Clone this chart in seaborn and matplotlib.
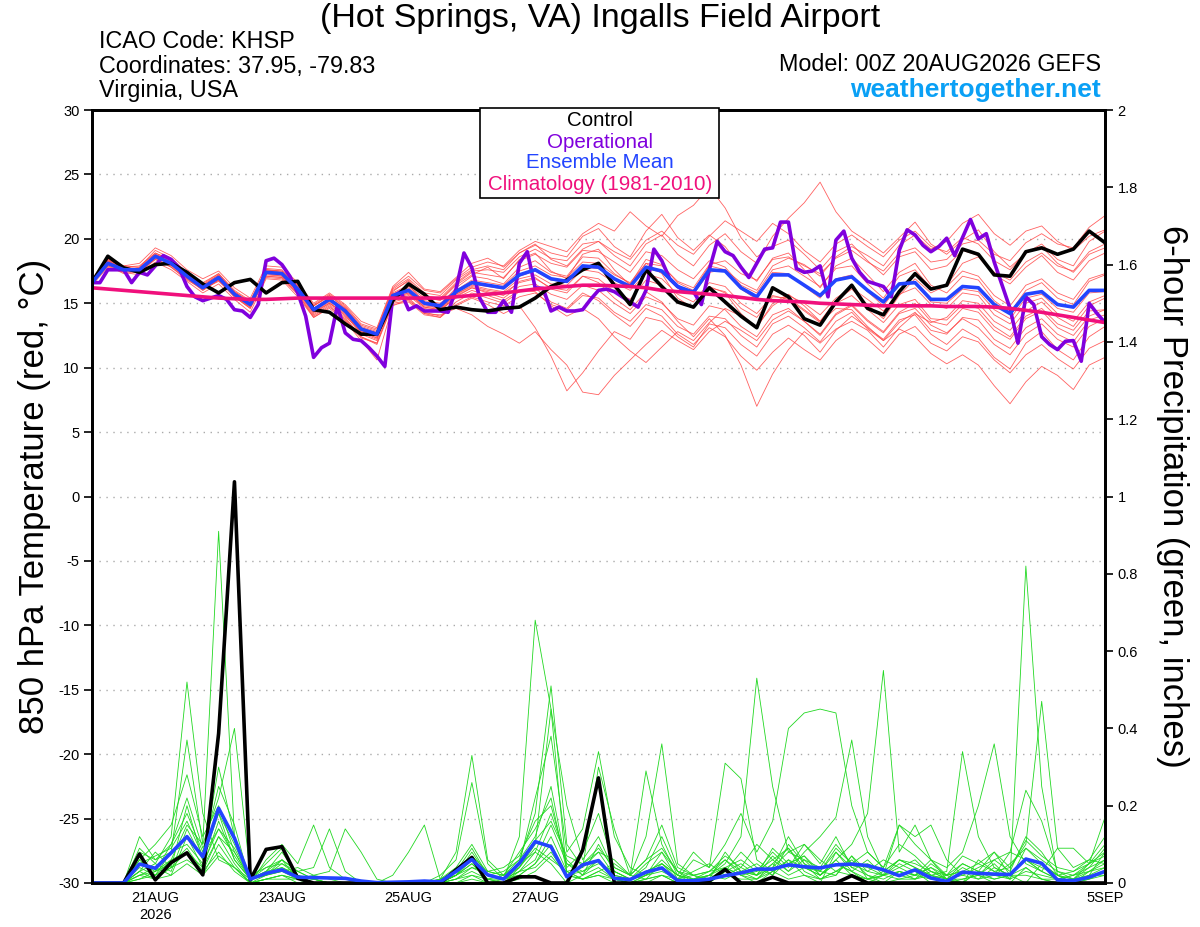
import pandas as pd
import matplotlib
matplotlib.use('Agg')
import matplotlib.pyplot as plt
from matplotlib.patches import Rectangle
import seaborn as sns

# ── Style ─────────────────────────────────────────────────────────────────────
sns.set_style('ticks')
plt.rcParams['font.family'] = ['Liberation Sans', 'DejaVu Sans']
plt.rcParams['text.color'] = 'black'
plt.rcParams['xtick.color'] = 'black'
plt.rcParams['ytick.color'] = 'black'
plt.rcParams['axes.unicode_minus'] = False

# ── Data ──────────────────────────────────────────────────────────────────────
TIMES_6H = pd.date_range('2026-08-20 00:00', periods=65, freq='6h')
TIMES_3H = pd.date_range('2026-08-20 00:00', periods=129, freq='3h')

TICK_DATES = pd.to_datetime(['2026-08-21', '2026-08-23', '2026-08-25', '2026-08-27',
                             '2026-08-29', '2026-09-01', '2026-09-03', '2026-09-05'])
TICK_LABELS = ['21AUG\n2026', '23AUG', '25AUG', '27AUG', '29AUG', '1SEP', '3SEP', '5SEP']

CONTROL_T = [16.6, 18.65, 17.75, 17.4, 18.0, 18.1, 17.4, 16.5, 15.8, 16.6, 16.85, 15.8, 16.6,
             16.7, 14.5, 14.3, 13.4, 12.6, 12.6, 15.2, 16.5, 15.7, 14.5, 14.7, 14.5, 14.4,
             14.6, 14.7, 15.4, 16.3, 16.8, 17.6, 18.1, 16.4, 14.9, 17.6, 16.3, 15.1, 14.7,
             16.2, 15.1, 14.0, 13.1, 16.2, 15.5, 13.8, 13.3, 15.1, 16.4, 14.6, 14.1, 15.9,
             17.3, 16.1, 16.4, 19.2, 18.8, 17.2, 17.1, 19.0, 19.3, 18.8, 19.2, 20.6, 19.7]

MEAN_T = [16.6, 18.1, 17.6, 17.6, 18.65, 18.1, 17.1, 16.2, 17.0, 15.7, 14.9, 17.4, 17.3,
          16.1, 14.5, 15.3, 14.4, 13.0, 12.6, 15.6, 16.0, 15.0, 14.8, 15.9, 16.6, 16.4,
          16.2, 17.2, 17.6, 16.9, 16.7, 17.9, 17.8, 16.9, 16.3, 17.8, 17.5, 16.3, 15.85,
          17.6, 17.5, 16.2, 15.5, 17.2, 17.2, 16.4, 15.6, 16.8, 17.05, 16.0, 15.1, 16.5,
          16.6, 15.3, 15.3, 16.3, 16.2, 14.9, 14.2, 15.7, 15.9, 14.9, 14.7, 16.0, 16.0]

CLIMO_T = [16.2, 16.1, 16.0, 15.9, 15.8, 15.7, 15.6, 15.5, 15.4, 15.35, 15.3, 15.3, 15.35,
           15.4, 15.4, 15.4, 15.4, 15.4, 15.4, 15.4, 15.4, 15.4, 15.4, 15.5, 15.6, 15.7,
           15.8, 15.95, 16.1, 16.2, 16.3, 16.4, 16.4, 16.35, 16.3, 16.2, 16.0, 15.9, 15.8,
           15.7, 15.6, 15.45, 15.3, 15.2, 15.15, 15.1, 15.0, 14.95, 14.9, 14.85, 14.8, 14.8,
           14.8, 14.8, 14.75, 14.75, 14.75, 14.7, 14.6, 14.45, 14.3, 14.1, 13.9, 13.7, 13.5]

# operational run is 3-hourly
OPER_T = [16.6, 16.6, 17.6, 17.6, 17.6, 16.6, 17.4, 17.2, 17.9, 18.7,
          18.4, 17.75, 16.3, 15.5, 15.2, 15.4, 15.6, 15.3, 14.5, 14.4,
          13.9, 14.9, 18.3, 18.5, 18.0, 17.1, 15.8, 14.0, 10.8, 11.55,
          11.9, 14.8, 12.7, 12.2, 12.1, 11.55, 10.9, 10.1, 15.5, 15.9,
          14.5, 14.8, 14.4, 14.4, 14.4, 14.3, 16.1, 18.9, 17.75, 15.4,
          14.3, 14.3, 15.2, 14.3, 18.1, 19.0, 16.2, 16.15, 14.4, 14.7,
          14.4, 14.4, 14.5, 15.3, 16.0,
          16.1, 15.9, 15.5, 15.1, 14.7, 16.0, 19.2, 18.3, 16.9, 16.3,
          15.9, 15.9, 14.9, 17.6, 19.8, 19.0, 18.7, 17.8, 17.0, 18.1,
          19.2, 19.3, 21.3, 21.3, 17.7, 17.4, 17.5, 17.9, 15.5, 19.9,
          20.6, 18.5, 17.4, 16.7, 16.5, 16.3, 15.5, 19.1, 20.7, 20.3,
          19.5, 19.0, 19.4, 20.05, 18.7, 20.1, 21.5, 20.0, 20.4, 18.2,
          16.4, 14.6, 11.9, 15.5, 14.9, 12.4, 11.8, 11.4, 12.05, 12.1,
          10.5, 15.0, 14.2, 13.5]

MEMBERS_T = [
    [16.9, 18.5, 17.9, 18.1, 19.3, 18.7, 17.6, 16.9, 17.5, 16.2, 15.4, 17.9, 17.8,
     16.6, 15.0, 15.8, 14.9, 13.6, 13.1, 16.3, 17.4, 16.1, 15.9, 17.0, 18.1, 18.5,
     17.8, 18.9, 19.6, 18.4, 17.9, 19.2, 19.8, 18.7, 17.9, 19.6, 20.3, 18.8, 17.9,
     19.5, 20.4, 19.0, 18.1, 20.2, 21.6, 22.8, 24.4, 22.1, 20.6, 19.8, 18.9, 20.1,
     21.3, 19.6, 18.8, 19.9, 20.7, 19.0, 17.8, 18.9, 19.6, 18.4, 17.9, 19.8, 20.6],
    [16.4, 17.8, 17.4, 17.2, 18.2, 17.6, 16.7, 15.8, 16.5, 15.3, 14.3, 16.9, 16.8,
     15.5, 13.9, 14.6, 13.6, 12.1, 10.6, 14.8, 15.3, 14.2, 13.9, 15.1, 15.8, 15.4,
     15.0, 15.9, 16.2, 15.1, 14.6, 15.8, 15.2, 14.1, 13.2, 14.6, 14.0, 12.6, 11.8,
     13.1, 12.4, 10.9, 9.8, 11.2, 12.3, 11.4, 10.6, 12.1, 13.0, 12.2, 11.1, 12.6,
     13.2, 11.9, 11.3, 12.4, 12.0, 10.6, 9.6, 11.0, 11.8, 10.7, 9.9, 11.5, 12.1],
    [16.7, 18.2, 17.8, 17.9, 18.9, 18.4, 17.4, 16.5, 17.3, 15.9, 15.1, 17.6, 17.5,
     16.3, 14.8, 15.5, 14.2, 12.7, 12.2, 15.9, 16.8, 15.5, 15.2, 16.4, 17.2, 17.8,
     16.9, 18.4, 18.9, 17.5, 16.9, 18.8, 19.2, 17.6, 16.4, 18.1, 17.3, 15.4, 14.6,
     16.3, 15.8, 14.2, 13.1, 15.0, 15.7, 14.8, 13.6, 15.2, 16.1, 14.9, 13.8, 15.6,
     16.9, 15.8, 16.4, 18.1, 18.6, 17.2, 16.5, 17.8, 18.7, 17.4, 16.8, 18.3, 18.9],
    [16.5, 17.9, 17.3, 17.5, 18.4, 17.9, 16.9, 16.0, 16.8, 15.5, 14.6, 17.1, 17.0,
     15.8, 14.1, 14.9, 13.9, 12.4, 11.9, 15.2, 15.6, 14.6, 14.4, 15.5, 16.2, 15.9,
     15.6, 16.7, 17.0, 16.1, 15.8, 17.1, 16.6, 15.4, 14.5, 15.9, 15.1, 13.6, 12.4,
     13.8, 12.5, 10.2, 7.0, 9.5, 11.4, 12.8, 11.9, 13.0, 13.6, 12.9, 11.6, 13.1,
     14.2, 13.5, 13.9, 15.2, 15.0, 13.6, 12.9, 14.4, 15.1, 13.9, 13.2, 14.8, 15.4],
    [16.8, 18.3, 17.7, 17.4, 18.5, 17.8, 16.8, 16.1, 16.7, 15.6, 14.7, 17.2, 17.1,
     15.9, 14.3, 15.1, 14.0, 12.8, 12.3, 15.1, 15.4, 14.3, 14.0, 14.8, 15.4, 14.9,
     14.2, 14.8, 13.1, 10.9, 8.2, 9.6, 11.3, 12.8, 12.2, 13.9, 13.6, 12.4, 11.6,
     13.4, 13.1, 11.8, 10.9, 12.6, 13.3, 12.5, 11.2, 12.9, 14.0, 13.1, 12.2, 13.7,
     14.1, 12.6, 11.8, 13.0, 12.3, 10.8, 9.9, 11.9, 12.8, 11.4, 10.6, 12.4, 13.2],
    [16.6, 18.0, 17.5, 17.8, 18.9, 18.3, 17.3, 16.4, 17.2, 15.8, 15.0, 17.5, 17.4,
     16.3, 14.8, 15.6, 14.7, 13.3, 12.9, 16.1, 16.9, 15.8, 15.6, 16.8, 17.6, 17.9,
     17.6, 18.9, 19.5, 18.9, 18.6, 20.2, 20.8, 19.4, 18.6, 20.6, 21.9, 20.1, 19.1,
     20.3, 19.4, 17.8, 16.7, 18.5, 18.9, 17.6, 16.2, 17.9, 18.5, 17.2, 15.9, 17.4,
     18.1, 16.4, 15.8, 17.1, 16.8, 15.2, 14.3, 16.0, 16.6, 15.4, 14.9, 16.7, 17.2],
    [16.5, 18.2, 17.6, 17.3, 18.6, 18.0, 17.0, 16.1, 16.9, 15.6, 14.8, 17.3, 17.2,
     16.0, 14.4, 15.2, 14.3, 12.9, 12.4, 15.5, 15.9, 14.9, 14.6, 15.7, 16.4, 16.1,
     15.9, 16.9, 17.2, 16.5, 16.4, 17.6, 17.4, 16.6, 16.0, 17.3, 16.9, 15.7, 15.1,
     16.6, 16.3, 15.0, 14.2, 15.6, 15.3, 14.4, 13.5, 14.6, 14.5, 13.2, 12.1, 13.0,
     12.4, 11.1, 10.3, 11.0, 10.2, 8.6, 7.2, 8.9, 10.1, 9.4, 8.3, 10.2, 10.8],
    [16.7, 18.4, 17.8, 17.7, 18.8, 18.2, 17.2, 16.3, 17.1, 15.8, 15.0, 17.6, 17.4,
     16.1, 14.6, 15.4, 14.5, 13.1, 12.7, 15.7, 16.2, 15.2, 15.0, 16.0, 16.8, 16.6,
     16.4, 17.5, 17.9, 17.2, 17.0, 18.2, 18.1, 17.2, 16.6, 18.1, 17.9, 16.7, 16.2,
     18.0, 18.3, 17.3, 16.8, 18.4, 18.6, 17.9, 17.3, 18.5, 19.1, 18.2, 17.5, 18.9,
     19.3, 18.2, 18.4, 19.6, 19.9, 18.8, 18.3, 19.7, 20.4, 19.6, 19.3, 20.9, 21.8],
    [16.6, 17.9, 17.5, 17.6, 18.5, 18.1, 17.0, 16.0, 16.8, 15.5, 14.7, 17.1, 17.0,
     15.7, 13.9, 14.7, 13.8, 12.4, 11.8, 14.9, 15.1, 14.1, 13.9, 14.9, 15.5, 15.1,
     14.8, 15.5, 15.8, 14.9, 14.5, 15.6, 15.4, 14.3, 13.6, 14.9, 14.5, 13.2, 12.6,
     14.0, 13.8, 12.5, 11.6, 13.4, 14.0, 13.1, 12.0, 13.6, 14.3, 13.0, 12.1, 13.5,
     14.3, 12.9, 12.6, 13.9, 13.7, 12.2, 11.5, 13.1, 13.8, 12.6, 12.0, 13.7, 14.1],
    [16.7, 18.1, 17.8, 17.5, 18.7, 18.2, 17.1, 16.2, 17.1, 15.6, 14.8, 17.5, 17.3,
     16.2, 14.6, 15.3, 14.5, 13.0, 12.6, 15.8, 16.4, 15.1, 14.9, 16.2, 17.1, 16.9,
     16.5, 17.8, 18.3, 17.4, 17.1, 18.6, 18.5, 17.3, 16.5, 18.4, 18.0, 16.6, 16.0,
     17.9, 17.6, 16.1, 15.3, 17.4, 17.3, 16.3, 15.4, 16.9, 17.2, 15.9, 14.8, 16.4,
     16.6, 15.1, 15.0, 16.1, 15.9, 14.5, 13.8, 15.4, 15.7, 14.6, 14.3, 15.8, 15.9],
    [16.8, 18.3, 17.6, 17.6, 18.7, 18.0, 17.1, 16.3, 17.0, 15.7, 14.9, 17.4, 17.3,
     16.0, 14.4, 15.2, 14.3, 12.9, 12.5, 15.6, 16.1, 15.0, 14.8, 15.8, 16.5, 16.3,
     16.1, 17.1, 17.5, 16.8, 16.6, 17.8, 17.7, 16.8, 16.2, 17.7, 17.4, 16.2, 15.7,
     17.4, 17.6, 16.6, 16.0, 17.9, 18.5, 18.0, 17.1, 18.6, 19.4, 18.7, 17.9, 19.5,
     20.3, 19.2, 19.8, 21.2, 21.9, 20.4, 19.5, 20.6, 21.0, 19.8, 19.1, 20.2, 20.7],
    [16.5, 18.0, 17.4, 17.7, 18.6, 18.2, 17.2, 16.2, 17.0, 15.8, 15.0, 17.4, 17.2,
     16.0, 14.3, 15.0, 14.2, 12.8, 12.3, 15.3, 15.7, 14.7, 14.5, 15.4, 16.0, 15.6,
     15.2, 16.0, 15.9, 14.8, 14.0, 14.6, 13.8, 12.4, 11.3, 10.4, 11.6, 12.8, 12.1,
     13.5, 14.6, 14.0, 13.2, 14.8, 15.6, 15.0, 14.1, 15.4, 16.2, 15.3, 14.4, 15.7,
     16.2, 14.9, 14.6, 15.8, 15.6, 14.1, 13.4, 15.0, 15.4, 14.2, 13.6, 15.1, 15.6],
    [16.6, 18.2, 17.7, 17.5, 18.6, 18.1, 17.0, 16.2, 17.0, 15.6, 14.9, 17.4, 17.3,
     16.1, 14.5, 15.3, 14.4, 12.9, 12.5, 15.7, 16.3, 15.4, 15.3, 16.5, 17.4, 17.2,
     17.0, 18.3, 18.8, 18.1, 17.8, 19.1, 19.0, 18.2, 17.4, 19.0, 18.7, 17.6, 16.9,
     18.3, 17.8, 16.4, 15.8, 17.6, 17.9, 17.1, 16.3, 17.7, 17.9, 16.5, 15.4, 17.1,
     17.6, 16.2, 16.3, 17.5, 17.1, 15.6, 14.8, 16.4, 16.9, 15.8, 15.3, 16.9, 17.3],
    [16.6, 18.0, 17.6, 17.6, 18.6, 18.1, 17.1, 16.2, 17.0, 15.7, 14.9, 17.3, 17.4,
     16.2, 14.6, 15.4, 14.6, 13.1, 12.7, 15.4, 15.8, 14.8, 14.6, 15.7, 16.3, 16.0,
     15.8, 16.6, 16.9, 16.2, 16.0, 17.1, 16.9, 15.9, 15.3, 16.8, 16.4, 15.2, 14.7,
     16.2, 15.9, 14.6, 13.9, 15.5, 15.4, 14.5, 13.6, 15.0, 15.6, 14.5, 13.5, 14.9,
     15.3, 13.8, 13.7, 14.9, 14.6, 13.2, 12.4, 14.0, 14.6, 13.4, 12.9, 14.4, 14.5],
    [16.7, 18.3, 17.9, 17.8, 19.1, 18.5, 17.4, 16.6, 17.3, 16.0, 15.2, 17.7, 17.6,
     16.4, 14.9, 15.7, 14.8, 13.4, 13.0, 16.2, 17.1, 16.0, 15.8, 16.9, 17.8, 18.2,
     17.9, 19.1, 19.8, 19.4, 19.0, 20.4, 21.2, 20.6, 22.1, 21.0, 20.2, 21.8, 22.6,
     24.0, 22.4, 20.1, 18.6, 19.4, 19.9, 18.8, 17.6, 19.0, 19.6, 18.3, 17.2, 18.6,
     19.0, 17.6, 17.9, 19.1, 18.7, 17.4, 16.8, 18.2, 18.9, 17.9, 17.5, 19.0, 19.6],
    [16.6, 18.1, 17.6, 17.4, 18.4, 17.8, 16.9, 16.1, 16.8, 15.5, 14.6, 17.0, 16.9,
     15.7, 14.0, 14.8, 13.7, 12.3, 11.9, 15.0, 15.2, 14.2, 14.1, 14.6, 14.1, 13.2,
     12.6, 11.9, 12.8, 11.4, 10.2, 8.1, 7.9, 9.4, 10.6, 11.8, 12.9, 12.1, 11.4,
     12.8, 13.6, 12.9, 12.1, 13.7, 14.4, 13.6, 12.5, 14.1, 14.8, 13.6, 12.7, 14.2,
     14.6, 13.3, 12.7, 13.8, 13.1, 11.8, 11.0, 12.6, 13.4, 12.2, 11.6, 13.2, 13.8],
    [16.8, 18.4, 17.8, 17.6, 18.8, 18.3, 17.3, 16.4, 17.2, 15.9, 15.1, 17.6, 17.5,
     16.4, 14.8, 15.6, 14.6, 13.2, 12.8, 16.0, 16.7, 15.6, 15.4, 16.6, 17.5, 17.6,
     17.4, 18.6, 19.2, 18.5, 18.3, 19.6, 19.8, 19.0, 18.4, 19.9, 20.6, 19.5, 18.8,
     20.2, 21.4, 20.6, 19.8, 21.2, 20.4, 19.1, 18.2, 19.6, 20.3, 19.4, 18.6, 19.9,
     20.6, 19.4, 19.0, 20.1, 19.6, 18.3, 17.6, 18.9, 19.4, 18.1, 17.4, 18.8, 19.3],
    [16.5, 18.0, 17.5, 17.7, 18.7, 18.0, 17.0, 16.2, 16.9, 15.7, 14.8, 17.3, 17.1,
     15.9, 14.2, 15.0, 14.1, 12.6, 12.1, 15.4, 15.8, 14.7, 14.5, 15.6, 16.2, 15.8,
     15.4, 16.3, 16.5, 15.7, 15.3, 16.4, 16.0, 15.0, 14.2, 15.5, 15.0, 13.8, 13.3,
     14.8, 14.5, 13.2, 12.4, 14.1, 14.6, 13.6, 12.6, 14.2, 14.9, 13.7, 12.8, 14.3,
     15.0, 13.6, 13.3, 14.6, 14.3, 12.9, 12.2, 13.8, 14.4, 13.1, 12.5, 14.0, 14.5],
]

CONTROL_P = [0, 0, 0, 0.075, 0.008, 0.053, 0.078, 0.021, 0.387, 1.038, 0.008, 0.087, 0.094,
             0.012, 0, 0, 0, 0, 0, 0, 0, 0, 0, 0.034, 0.066, 0,
             0, 0.016, 0.016, 0, 0, 0.085, 0.272, 0, 0, 0, 0, 0, 0,
             0.005, 0.035, 0, 0, 0.015, 0, 0, 0, 0, 0.019, 0, 0, 0,
             0, 0, 0, 0, 0, 0, 0, 0, 0, 0, 0, 0, 0]

MEAN_P = [0, 0, 0, 0.049, 0.038, 0.078, 0.12, 0.068, 0.193, 0.116, 0.01, 0.025, 0.034,
          0.015, 0.014, 0.013, 0.012, 0.005, 0.001, 0.002, 0.003, 0.005, 0.003, 0.03, 0.061, 0.021,
          0.01, 0.051, 0.107, 0.094, 0.016, 0.047, 0.058, 0.012, 0.009, 0.028, 0.039, 0.006, 0.006,
          0.01, 0.019, 0.026, 0.036, 0.036, 0.047, 0.042, 0.039, 0.047, 0.049, 0.045, 0.034, 0.019,
          0.034, 0.013, 0.004, 0.028, 0.025, 0.023, 0.022, 0.062, 0.051, 0.008, 0.006, 0.015, 0.03]

MEMBERS_P = [
    [0, 0, 0, 0.04, 0.02, 0.06, 0.15, 0.10, 0.91, 0.12, 0.0, 0.02, 0.03,
     0.01, 0, 0, 0, 0, 0, 0, 0, 0, 0, 0.02, 0.05, 0.01,
     0, 0.03, 0.08, 0.05, 0, 0.02, 0.06, 0.01, 0, 0, 0.02, 0, 0,
     0.01, 0.04, 0.02, 0, 0.03, 0.06, 0.02, 0, 0.08, 0.03, 0, 0.02, 0.05,
     0.03, 0, 0, 0.01, 0.02, 0, 0, 0.04, 0.01, 0, 0, 0.01, 0.02],
    [0, 0, 0, 0.09, 0.05, 0.12, 0.52, 0.18, 0.06, 0.04, 0.01, 0.03, 0.08,
     0.02, 0, 0, 0, 0, 0, 0, 0, 0, 0, 0.03, 0.09, 0.02,
     0.01, 0.12, 0.68, 0.45, 0.02, 0.05, 0.08, 0.02, 0.01, 0.04, 0.12, 0.03, 0,
     0.02, 0.06, 0.03, 0.01, 0.05, 0.09, 0.03, 0.01, 0.02, 0.07, 0.01, 0, 0.03,
     0.02, 0.06, 0.01, 0, 0.03, 0.08, 0.02, 0, 0.05, 0.02, 0, 0.03, 0.06],
    [0, 0, 0, 0.12, 0.06, 0.08, 0.37, 0.10, 0.22, 0.40, 0.02, 0.04, 0.06,
     0.01, 0, 0, 0, 0, 0, 0, 0, 0, 0.01, 0.08, 0.33, 0.06,
     0.02, 0.08, 0.14, 0.22, 0.03, 0.04, 0.30, 0.14, 0.02, 0.01, 0.05, 0.02, 0,
     0.01, 0.03, 0.05, 0.02, 0.04, 0.08, 0.06, 0.02, 0.05, 0.03, 0.01, 0.02, 0.04,
     0.06, 0.02, 0, 0.03, 0.02, 0.05, 0.01, 0.82, 0.25, 0.02, 0.01, 0.03, 0.05],
    [0, 0, 0, 0.06, 0.10, 0.15, 0.28, 0.12, 0.20, 0.08, 0.01, 0.02, 0.05,
     0.03, 0.01, 0, 0, 0, 0, 0, 0, 0, 0, 0.01, 0.04, 0.02,
     0.03, 0.06, 0.18, 0.51, 0.10, 0.04, 0.08, 0.06, 0.02, 0.12, 0.36, 0.05, 0.02,
     0, 0.03, 0.08, 0.04, 0.02, 0.10, 0.05, 0.01, 0.03, 0.06, 0.02, 0, 0.01,
     0.02, 0.04, 0.01, 0, 0.06, 0.03, 0.01, 0.09, 0.05, 0.02, 0, 0.02, 0.08],
    [0, 0, 0, 0.03, 0.08, 0.04, 0.20, 0.06, 0.30, 0.12, 0.01, 0.03, 0.04,
     0.02, 0, 0, 0, 0, 0, 0, 0, 0, 0, 0, 0.02, 0.01,
     0, 0.04, 0.10, 0.45, 0.20, 0.06, 0.12, 0.03, 0.01, 0.03, 0.05, 0.01, 0.06,
     0.04, 0.10, 0.18, 0.08, 0.16, 0.40, 0.44, 0.45, 0.44, 0.20, 0.08, 0.04, 0.10,
     0.07, 0.03, 0.01, 0.04, 0.02, 0.06, 0.03, 0.12, 0.08, 0.02, 0.01, 0.04, 0.09],
    [0, 0, 0, 0.05, 0.03, 0.10, 0.18, 0.08, 0.25, 0.15, 0.0, 0.06, 0.10,
     0.05, 0.15, 0.04, 0.01, 0, 0, 0, 0, 0, 0.02, 0.06, 0.26, 0.05,
     0.01, 0.03, 0.06, 0.15, 0.05, 0.02, 0.04, 0.01, 0.00, 0.02, 0.06, 0.02, 0.01,
     0.02, 0.05, 0.12, 0.53, 0.25, 0.08, 0.10, 0.05, 0.12, 0.04, 0.02, 0.01, 0.03,
     0.01, 0.05, 0.02, 0, 0.03, 0.01, 0.02, 0.04, 0.01, 0, 0.01, 0.02, 0.04],
    [0, 0, 0, 0.02, 0.04, 0.02, 0.12, 0.04, 0.16, 0.06, 0.01, 0.02, 0.06,
     0.03, 0.04, 0.14, 0.03, 0, 0, 0, 0, 0, 0.01, 0.04, 0.10, 0.03,
     0.02, 0.05, 0.22, 0.38, 0.08, 0.14, 0.34, 0.12, 0.04, 0.02, 0.08, 0.01, 0.03,
     0.05, 0.02, 0.04, 0.10, 0.06, 0.03, 0.08, 0.12, 0.17, 0.37, 0.12, 0.03, 0.06,
     0.04, 0.02, 0.01, 0.05, 0.03, 0.02, 0.08, 0.06, 0.03, 0.01, 0.02, 0.05, 0.10],
    [0, 0, 0, 0.01, 0.03, 0.05, 0.09, 0.03, 0.12, 0.05, 0.0, 0.01, 0.02,
     0.01, 0.02, 0.03, 0.14, 0.08, 0.01, 0, 0, 0, 0, 0.02, 0.05, 0.01,
     0.01, 0.02, 0.05, 0.10, 0.02, 0.03, 0.06, 0.02, 0.01, 0.03, 0.05, 0.02, 0.08,
     0.04, 0.31, 0.27, 0.06, 0.03, 0.05, 0.07, 0.02, 0.06, 0.10, 0.18, 0.55, 0.08,
     0.15, 0.06, 0.02, 0.03, 0.05, 0.08, 0.04, 0.10, 0.47, 0.09, 0.04, 0.06, 0.12],
    [0, 0, 0, 0.02, 0.01, 0.04, 0.08, 0.02, 0.10, 0.04, 0.0, 0.01, 0.02,
     0, 0.01, 0, 0, 0, 0, 0.02, 0.08, 0.15, 0.01, 0.03, 0.06, 0.02,
     0.01, 0.04, 0.09, 0.06, 0.03, 0.01, 0.02, 0.01, 0, 0.02, 0.04, 0.01, 0.02,
     0.03, 0.06, 0.02, 0.01, 0.04, 0.12, 0.05, 0.03, 0.02, 0.07, 0.03, 0.02, 0.15,
     0.10, 0.06, 0.04, 0.08, 0.20, 0.36, 0.12, 0.05, 0.03, 0.09, 0.09, 0.05, 0.17],
    [0, 0, 0, 0.06, 0.02, 0.08, 0.10, 0.05, 0.14, 0.07, 0.01, 0.02, 0.04,
     0.02, 0, 0, 0, 0, 0, 0, 0, 0, 0, 0.01, 0.03, 0.01,
     0.02, 0.06, 0.12, 0.25, 0.04, 0.08, 0.18, 0.04, 0.02, 0.29, 0.10, 0.02, 0.01,
     0.03, 0.04, 0.06, 0.03, 0.08, 0.04, 0.10, 0.06, 0.03, 0.05, 0.04, 0.02, 0.06,
     0.04, 0.02, 0.03, 0.34, 0.12, 0.04, 0.02, 0.06, 0.03, 0.01, 0.02, 0.04, 0.06],
    [0, 0, 0, 0.03, 0.05, 0.03, 0.14, 0.06, 0.18, 0.10, 0.01, 0.02, 0.03,
     0.04, 0.02, 0.01, 0, 0, 0, 0, 0, 0, 0, 0.02, 0.08, 0.02,
     0.01, 0.03, 0.04, 0.08, 0.02, 0.01, 0.03, 0.05, 0.02, 0.06, 0.15, 0.04, 0.02,
     0.01, 0.02, 0.03, 0.05, 0.02, 0.06, 0.04, 0.03, 0.09, 0.05, 0.08, 0.04, 0.15,
     0.12, 0.15, 0.06, 0.02, 0.04, 0.06, 0.08, 0.24, 0.16, 0.03, 0.01, 0.05, 0.08],
    [0, 0, 0, 0.01, 0.02, 0.04, 0.06, 0.03, 0.08, 0.03, 0, 0.01, 0.01,
     0.01, 0, 0, 0, 0, 0, 0, 0, 0, 0, 0.01, 0.02, 0,
     0.01, 0.02, 0.05, 0.12, 0.03, 0.01, 0.02, 0, 0, 0.01, 0.02, 0, 0.01,
     0.02, 0.01, 0.03, 0.02, 0.05, 0.02, 0.04, 0.02, 0.06, 0.02, 0.01, 0.03, 0.02,
     0.01, 0.03, 0.01, 0.02, 0.01, 0.02, 0.01, 0.03, 0.02, 0.01, 0, 0.01, 0.03],
    [0, 0, 0, 0.02, 0.03, 0.06, 0.08, 0.04, 0.12, 0.08, 0.01, 0.04, 0.05,
     0.02, 0.01, 0, 0, 0, 0, 0, 0, 0, 0.01, 0.02, 0.04, 0.03,
     0.04, 0.07, 0.16, 0.20, 0.05, 0.03, 0.05, 0.03, 0.01, 0.02, 0.03, 0.01, 0,
     0.01, 0.08, 0.03, 0.02, 0.07, 0.03, 0.06, 0.04, 0.10, 0.05, 0.03, 0.06, 0.04,
     0.02, 0.01, 0.02, 0.03, 0.01, 0.04, 0.02, 0.06, 0.04, 0.02, 0.03, 0.06, 0.05],
    [0, 0, 0, 0.08, 0.06, 0.10, 0.22, 0.09, 0.18, 0.06, 0.01, 0.05, 0.09,
     0.02, 0, 0, 0, 0, 0, 0, 0, 0, 0, 0.02, 0.06, 0.02,
     0.01, 0.05, 0.08, 0.18, 0.06, 0.02, 0.10, 0.03, 0.01, 0.05, 0.08, 0.03, 0.01,
     0.02, 0.04, 0.02, 0.03, 0.06, 0.09, 0.04, 0.02, 0.05, 0.03, 0.06, 0.02, 0.03,
     0.02, 0.04, 0.02, 0.05, 0.03, 0.02, 0.05, 0.09, 0.06, 0.03, 0.02, 0.03, 0.04],
    [0, 0, 0, 0.05, 0.07, 0.09, 0.16, 0.07, 0.14, 0.09, 0.01, 0.03, 0.06,
     0.03, 0.01, 0, 0, 0, 0, 0, 0, 0, 0, 0.02, 0.07, 0.03,
     0.02, 0.04, 0.11, 0.16, 0.07, 0.05, 0.09, 0.04, 0.02, 0.06, 0.09, 0.03, 0.02,
     0.03, 0.07, 0.04, 0.02, 0.09, 0.05, 0.07, 0.03, 0.08, 0.04, 0.05, 0.03, 0.06,
     0.05, 0.03, 0.02, 0.07, 0.05, 0.03, 0.04, 0.11, 0.07, 0.04, 0.03, 0.05, 0.07],
    [0, 0, 0, 0.03, 0.01, 0.02, 0.05, 0.02, 0.07, 0.04, 0, 0.01, 0.02,
     0.01, 0, 0, 0, 0, 0, 0, 0, 0, 0, 0, 0.01, 0,
     0, 0.01, 0.03, 0.07, 0.02, 0.01, 0.03, 0.01, 0, 0.01, 0.02, 0.01, 0,
     0.01, 0.02, 0.01, 0.01, 0.03, 0.01, 0.02, 0.01, 0.03, 0.02, 0.01, 0.02, 0.01,
     0.01, 0.02, 0.01, 0.01, 0.02, 0.01, 0.02, 0.02, 0.01, 0.01, 0, 0.02, 0.02],
]

RED = '#ff4646'
GREEN = '#22d822'
PURPLE = '#8000dd'
BLUE = '#2244ff'
PINK = '#f0107c'
SITE_BLUE = '#0aa0f5'


def members_frame(members, times, col):
    parts = [pd.DataFrame({'time': times, col: vals, 'member': k})
             for k, vals in enumerate(members)]
    return pd.concat(parts, ignore_index=True)


red_df = members_frame(MEMBERS_T, TIMES_6H, 'temp')
green_df = members_frame(MEMBERS_P, TIMES_6H, 'precip')

# ── Figure ────────────────────────────────────────────────────────────────────
fig = plt.figure(figsize=(12, 9.27), dpi=100)
ax = fig.add_axes([92 / 1200, 44 / 927, 1013 / 1200, 773 / 927])
ax2 = ax.twinx()

# temperature (left axis)
sns.lineplot(data=red_df, x='time', y='temp', units='member', estimator=None,
             color=RED, lw=0.6, alpha=0.85, legend=False, ax=ax)
sns.lineplot(x=TIMES_3H, y=OPER_T, color=PURPLE, lw=2.6, ax=ax)
sns.lineplot(x=TIMES_6H, y=CONTROL_T, color='black', lw=2.6, ax=ax)
sns.lineplot(x=TIMES_6H, y=MEAN_T, color=BLUE, lw=2.6, ax=ax)
sns.lineplot(x=TIMES_6H, y=CLIMO_T, color=PINK, lw=2.6, ax=ax)

# precipitation (right axis)
sns.lineplot(data=green_df, x='time', y='precip', units='member', estimator=None,
             color=GREEN, lw=0.6, legend=False, ax=ax2)
sns.lineplot(x=TIMES_6H, y=CONTROL_P, color='black', lw=2.6, ax=ax2)
sns.lineplot(x=TIMES_6H, y=MEAN_P, color=BLUE, lw=2.6, ax=ax2)

ax.set_xlim(pd.Timestamp('2026-08-20'), pd.Timestamp('2026-09-05'))
ax.set_ylim(-30, 30)
ax2.set_ylim(0, 2)

ax.set_yticks(range(-30, 31, 5))
ax.yaxis.grid(True, linestyle=(0, (1, 4)), color='#aaaaaa', lw=1)
ax2.set_yticks([i / 5 for i in range(11)])
ax2.set_yticklabels(['0', '0.2', '0.4', '0.6', '0.8', '1', '1.2', '1.4', '1.6', '1.8', '2'])

ax.set_xticks(TICK_DATES)
ax.set_xticklabels(TICK_LABELS)
ax.set_xlabel('')
ax.set_ylabel('')
ax2.set_ylabel('')

ax.tick_params(axis='x', length=0, pad=6, labelsize=10.5)
ax.tick_params(axis='y', direction='out', length=6, width=1.2, labelsize=10.5, pad=3)
ax2.tick_params(axis='y', direction='out', length=6, width=1.2, labelsize=10.5, pad=3)
for a in (ax, ax2):
    for sp in a.spines.values():
        sp.set_linewidth(2)
        sp.set_color('black')

# axis titles
fig.text(35 / 1200, 1 - 496 / 927, '850 hPa Temperature (red, °C)', rotation=90,
         ha='center', va='center', fontsize=25)
fig.text(1172 / 1200, 1 - 496 / 927, '6-hour Precipitation (green, inches)', rotation=-90,
         ha='center', va='center', fontsize=25)

# header texts
fig.text(0.5, 1 - 27 / 927, '(Hot Springs, VA) Ingalls Field Airport',
         ha='center', va='baseline', fontsize=24.5)
fig.text(99 / 1200, 1 - 48 / 927, 'ICAO Code: KHSP', ha='left', va='baseline', fontsize=16.8)
fig.text(99 / 1200, 1 - 73 / 927, 'Coordinates: 37.95, -79.83', ha='left', va='baseline', fontsize=16.8)
fig.text(99 / 1200, 1 - 97.5 / 927, 'Virginia, USA', ha='left', va='baseline', fontsize=16.8)
fig.text(1101 / 1200, 1 - 71 / 927, 'Model: 00Z 20AUG2026 GEFS', ha='right', va='baseline', fontsize=16.8)
fig.text(1101 / 1200, 1 - 96.5 / 927, 'weathertogether.net', ha='right', va='baseline',
         fontsize=19, fontweight='bold', color=SITE_BLUE)

# legend box
fig.patches.append(Rectangle((480 / 1200, 1 - 198 / 927), 239 / 1200, 90 / 927,
                             transform=fig.transFigure, facecolor='white',
                             edgecolor='black', lw=1.2, zorder=5))
for label, color, ypx in [('Control', 'black', 121), ('Operational', PURPLE, 142),
                          ('Ensemble Mean', BLUE, 163),
                          ('Climatology (1981-2010)', PINK, 185)]:
    fig.text(0.5, 1 - ypx / 927, label, ha='center', va='center', fontsize=14.8,
             color=color, zorder=6)

fig.savefig('out.png', dpi=100)
